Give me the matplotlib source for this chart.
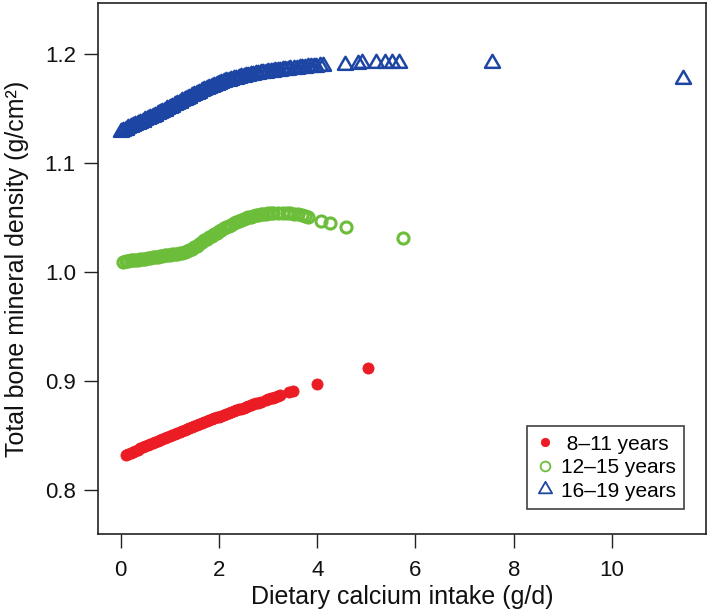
import matplotlib
matplotlib.use("Agg")
import matplotlib.pyplot as plt
from matplotlib.path import Path

plt.rcParams['font.family'] = ['Liberation Sans', 'DejaVu Sans']

# ---------------- data ----------------
red_x = [0.10, 0.15, 0.20, 0.25, 0.30, 0.35, 0.40, 0.45, 0.50, 0.55,
         0.60, 0.65, 0.70, 0.75, 0.80, 0.85, 0.90, 0.95, 1.00, 1.05,
         1.10, 1.15, 1.20, 1.25, 1.30, 1.35, 1.40, 1.45, 1.50, 1.55,
         1.60, 1.65, 1.70, 1.75, 1.80, 1.85, 1.90, 1.95, 2.00, 2.05,
         2.10, 2.15, 2.20, 2.25, 2.30, 2.35, 2.40, 2.45, 2.50, 2.55,
         2.60, 2.65, 2.70, 2.75, 2.80, 2.85, 2.95, 3.00, 3.05, 3.10,
         3.15, 3.20, 3.25, 3.42, 3.50, 3.99, 5.04]
red_y = [0.8322, 0.8332, 0.8342, 0.8352, 0.8362, 0.8372, 0.8382, 0.8392, 0.8401, 0.8411,
         0.8420, 0.8430, 0.8440, 0.8450, 0.8459, 0.8469, 0.8478, 0.8487, 0.8496, 0.8506,
         0.8515, 0.8524, 0.8533, 0.8542, 0.8551, 0.8560, 0.8569, 0.8578, 0.8587, 0.8596,
         0.8605, 0.8614, 0.8622, 0.8631, 0.8640, 0.8649, 0.8657, 0.8666, 0.8674, 0.8683,
         0.8691, 0.8699, 0.8707, 0.8716, 0.8724, 0.8732, 0.8740, 0.8748, 0.8756, 0.8764,
         0.8772, 0.8780, 0.8788, 0.8796, 0.8803, 0.8811, 0.8826, 0.8834, 0.8842, 0.8849,
         0.8857, 0.8864, 0.8872, 0.8897, 0.8907, 0.8976, 0.9120]

green_x = [0.05, 0.10, 0.15, 0.20, 0.25, 0.30, 0.35, 0.40, 0.45, 0.50,
           0.55, 0.60, 0.65, 0.70, 0.75, 0.80, 0.85, 0.90, 0.95, 1.00,
           1.05, 1.10, 1.15, 1.20, 1.25, 1.30, 1.35, 1.40, 1.45, 1.50,
           1.55, 1.60, 1.65, 1.70, 1.75, 1.80, 1.85, 1.90, 1.95, 2.00,
           2.05, 2.10, 2.15, 2.20, 2.25, 2.30, 2.35, 2.40, 2.45, 2.50,
           2.55, 2.60, 2.65, 2.70, 2.75, 2.80, 2.85, 2.90, 2.95, 3.00,
           3.05, 3.10, 3.20, 3.30, 3.38, 3.45, 3.52, 3.60, 3.68, 3.75,
           3.82, 4.07, 4.27, 4.58, 5.74]
green_y = [1.0096, 1.0099, 1.0102, 1.0106, 1.0109, 1.0112, 1.0115, 1.0118, 1.0121, 1.0124,
           1.0127, 1.0131, 1.0135, 1.0139, 1.0142, 1.0146, 1.0149, 1.0153, 1.0156, 1.0159,
           1.0162, 1.0165, 1.0169, 1.0173, 1.0179, 1.0186, 1.0194, 1.0202, 1.0214, 1.0228,
           1.0243, 1.0259, 1.0275, 1.0290, 1.0305, 1.0319, 1.0333, 1.0347, 1.0361, 1.0374,
           1.0387, 1.0400, 1.0412, 1.0424, 1.0436, 1.0447, 1.0457, 1.0467, 1.0476, 1.0485,
           1.0493, 1.0501, 1.0508, 1.0514, 1.0520, 1.0525, 1.0529, 1.0533, 1.0536, 1.0539,
           1.0541, 1.0543, 1.0545, 1.0544, 1.0542, 1.0538, 1.0535, 1.0529, 1.0521, 1.0514,
           1.0502, 1.0470, 1.0446, 1.0416, 1.0314]

blue_x = [0.00, 0.05, 0.10, 0.15, 0.20, 0.25, 0.30, 0.35, 0.40, 0.45,
          0.50, 0.55, 0.60, 0.65, 0.70, 0.75, 0.80, 0.85, 0.90, 0.95,
          1.00, 1.05, 1.10, 1.15, 1.20, 1.25, 1.30, 1.35, 1.40, 1.45,
          1.50, 1.55, 1.60, 1.65, 1.70, 1.75, 1.80, 1.85, 1.90, 1.95,
          2.00, 2.05, 2.10, 2.15, 2.20, 2.25, 2.30, 2.35, 2.40, 2.45,
          2.50, 2.55, 2.60, 2.65, 2.70, 2.75, 2.80, 2.85, 2.90, 2.95,
          3.00, 3.05, 3.10, 3.15, 3.20, 3.25, 3.30, 3.35, 3.40, 3.45,
          3.52, 3.58, 3.65, 3.70, 3.76, 3.82, 3.88, 3.93, 3.98, 4.05,
          4.12, 4.57, 4.84, 4.91, 5.20, 5.38, 5.52, 5.67, 7.55, 11.45]
blue_y = [1.1286, 1.1296, 1.1307, 1.1317, 1.1328, 1.1338, 1.1349, 1.1359, 1.1370, 1.1380,
          1.1391, 1.1402, 1.1413, 1.1424, 1.1435, 1.1446, 1.1458, 1.1469, 1.1481, 1.1493,
          1.1505, 1.1517, 1.1529, 1.1541, 1.1553, 1.1565, 1.1577, 1.1589, 1.1601, 1.1613,
          1.1624, 1.1635, 1.1646, 1.1657, 1.1667, 1.1677, 1.1687, 1.1697, 1.1706, 1.1715,
          1.1724, 1.1732, 1.1740, 1.1748, 1.1755, 1.1762, 1.1769, 1.1775, 1.1781, 1.1787,
          1.1792, 1.1797, 1.1802, 1.1806, 1.1810, 1.1814, 1.1818, 1.1822, 1.1825, 1.1828,
          1.1831, 1.1835, 1.1838, 1.1841, 1.1844, 1.1847, 1.1850, 1.1853, 1.1855, 1.1858,
          1.1862, 1.1865, 1.1869, 1.1872, 1.1875, 1.1878, 1.1881, 1.1883, 1.1885, 1.1888,
          1.1890, 1.1902, 1.1912, 1.1914, 1.1917, 1.1918, 1.1919, 1.1920, 1.1920, 1.1775]

series_labels = [" 8\u201311 years", "12\u201315 years", "16\u201319 years"]
x_ticks = [0, 2, 4, 6, 8, 10]
y_ticks = [0.8, 0.9, 1.0, 1.1, 1.2]
x_label = "Dietary calcium intake (g/d)"
y_label = "Total bone mineral density (g/cm\u00b2)"

# ---------------- style ----------------
RED = "#EC1C24"
GREEN = "#6CBE3A"
BLUE = "#1D45A3"
AXC = "#222222"

tri = Path([(-1.0, -0.577), (1.0, -0.577), (0.0, 1.155), (-1.0, -0.577)],
           [Path.MOVETO, Path.LINETO, Path.LINETO, Path.CLOSEPOLY])

fig = plt.figure(figsize=(7.09, 6.12), dpi=100)
ax = fig.add_axes([98 / 709, 1 - 534 / 612, 608 / 709, 531 / 612])

ax.plot(red_x, red_y, linestyle="none", marker="o", markersize=8.0,
        markerfacecolor=RED, markeredgecolor=RED, markeredgewidth=0.6,
        label=series_labels[0])
ax.plot(green_x, green_y, linestyle="none", marker="o", markersize=8.0,
        markerfacecolor="none", markeredgecolor=GREEN, markeredgewidth=2.2,
        label=series_labels[1])
ax.plot(blue_x, blue_y, linestyle="none", marker=tri, markersize=12.5,
        markerfacecolor="none", markeredgecolor=BLUE, markeredgewidth=1.8,
        label=series_labels[2])

ax.set_xlim(-0.462, 11.913)
ax.set_ylim(0.7597, 1.2468)
ax.set_xticks(x_ticks)
ax.set_xticklabels([str(t) for t in x_ticks])
ax.set_yticks(y_ticks)
ax.set_yticklabels(["%.1f" % t for t in y_ticks])

for s in ax.spines.values():
    s.set_color(AXC)
    s.set_linewidth(1.2)
ax.tick_params(axis="both", direction="out", length=10, width=1.0, color=AXC,
               labelsize=16, labelcolor="#111111")
ax.tick_params(axis="x", pad=9)
ax.tick_params(axis="y", pad=6)

ax.set_xlabel(x_label, fontsize=18, color="#111111")
ax.xaxis.set_label_coords(0.5, (534 - 597) / 531)
ax.xaxis.label.set_verticalalignment("center")
ax.set_ylabel(y_label, fontsize=18, color="#111111")
ax.yaxis.set_label_coords((17 - 98) / 608, 0.5)
ax.yaxis.label.set_verticalalignment("center")

leg = ax.legend(loc="lower right", bbox_to_anchor=((684 - 98) / 608, (534 - 509) / 531),
                borderaxespad=0, fontsize=15, frameon=True, fancybox=False,
                edgecolor="#111111", handlelength=0.9, handletextpad=0.3,
                labelspacing=0.22, borderpad=0.4, markerscale=1.0)
leg.get_frame().set_linewidth(1.2)
leg.legend_handles[0].set_markersize(6.0)
leg.legend_handles[1].set_markersize(7.0)
leg.legend_handles[1].set_markeredgewidth(1.3)
leg.legend_handles[2].set_markersize(11.0)
leg.legend_handles[2].set_markeredgewidth(1.3)

fig.savefig("out.png", dpi=100, facecolor="white")
